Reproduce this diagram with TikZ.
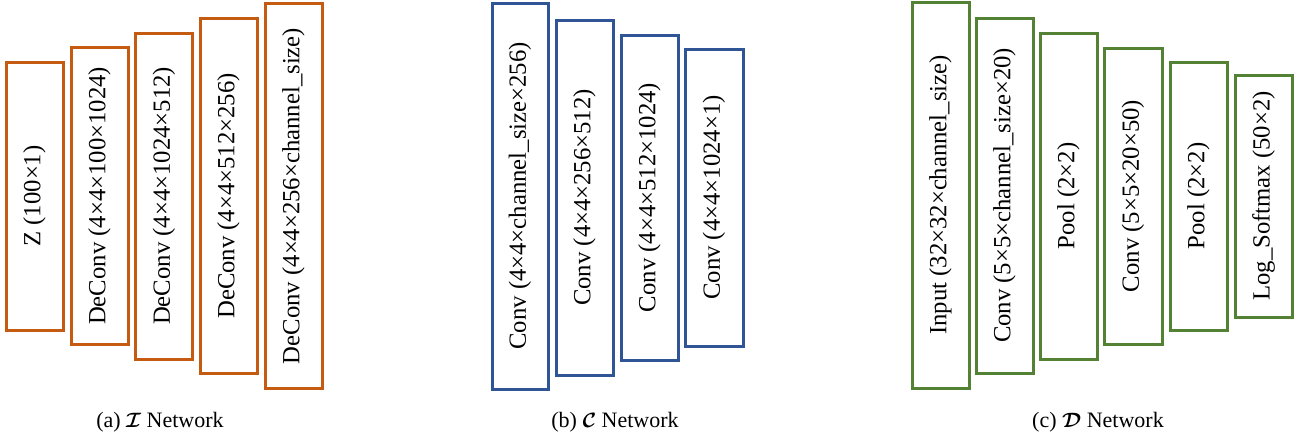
\documentclass[tikz,border=0pt]{standalone}
\usepackage{fontspec}
\usepackage{bm}
\setmainfont{Liberation Serif}
\definecolor{iorange}{RGB}{197,90,17}
\definecolor{cblue}{RGB}{47,85,151}
\definecolor{dgreen}{RGB}{84,130,53}
\tikzset{
  layerbox/.style={draw=#1, line width=3pt, rectangle, inner sep=0pt, minimum width=57pt,
    font=\fontsize{24.7}{28}\selectfont, fill=white},
  capt/.style={font=\fontsize{22}{26}\selectfont, inner sep=0pt, anchor=center}
}
\newcommand{\vt}[1]{\rotatebox{90}{#1}}
\begin{document}
\begin{tikzpicture}[x=1pt,y=-1pt]
\useasboundingbox (0,0) rectangle (1297,440);
% (a) I network
\node[layerbox=iorange, minimum height=268pt] (a1) at (34.5,196) {\vt{Z (100×1)}};
\node[layerbox=iorange, minimum height=297pt] (a2) at (99.5,196) {\vt{DeConv (4×4×100×1024)}};
\node[layerbox=iorange, minimum height=326pt] (a3) at (164,196) {\vt{DeConv (4×4×1024×512)}};
\node[layerbox=iorange, minimum height=355pt] (a4) at (228.5,196) {\vt{DeConv (4×4×512×256)}};
\node[layerbox=iorange, minimum height=385pt] (a5) at (293.5,196) {\vt{DeConv (4×4×256×channel\_size)}};
\node[capt] (capa) at (160,422) {(a) $\bm{\mathcal{I}}$ Network};
% (b) C network
\node[layerbox=cblue, minimum width=56pt, minimum height=386pt] (b1) at (520,196) {\vt{Conv (4×4×channel\_size×256)}};
\node[layerbox=cblue, minimum height=355pt] (b2) at (584.5,197.5) {\vt{Conv (4×4×256×512)}};
\node[layerbox=cblue, minimum height=325pt] (b3) at (649.5,197.5) {\vt{Conv (4×4×512×1024)}};
\node[layerbox=cblue, minimum width=58pt, minimum height=297pt] (b4) at (714,197.5) {\vt{Conv (4×4×1024×1)}};
\node[capt] (capb) at (615,422) {(b) $\bm{\mathcal{C}}$ Network};
% (c) D network
\node[layerbox=dgreen, minimum height=386pt] (c1) at (940.5,195) {\vt{Input (32×32×channel\_size)}};
\node[layerbox=dgreen, minimum height=355pt] (c2) at (1004.5,195.5) {\vt{Conv (5×5×channel\_size×20)}};
\node[layerbox=dgreen, minimum height=326pt] (c3) at (1068.5,196) {\vt{Pool (2×2)}};
\node[layerbox=dgreen, minimum width=58pt, minimum height=296pt] (c4) at (1133,196) {\vt{Conv (5×5×20×50)}};
\node[layerbox=dgreen, minimum height=268pt] (c5) at (1198.5,196) {\vt{Pool (2×2)}};
\node[layerbox=dgreen, minimum height=242pt] (c6) at (1263.5,196) {\vt{Log\_Softmax (50×2)}};
\node[capt] (capc) at (1098,422) {(c) $\bm{\mathcal{D}}$ Network};
\end{tikzpicture}
\end{document}
